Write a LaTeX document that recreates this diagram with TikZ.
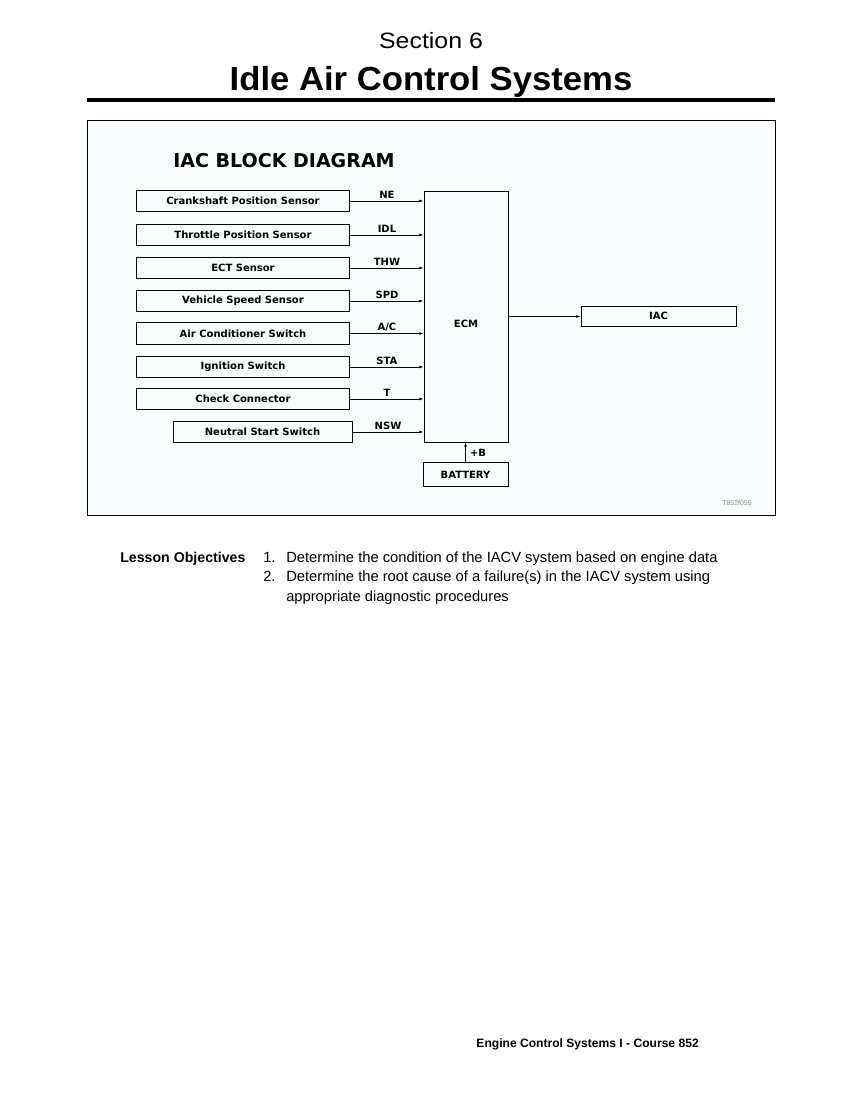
\documentclass[tikz,border=0pt]{standalone}
\usepackage{fontspec}
\setmainfont{Liberation Sans}
\newfontfamily\diafont{DejaVu Sans}
\newfontfamily\headfont[FakeStretch=1.12]{Liberation Sans}
\newfontfamily\titlefont[FakeStretch=1.04]{Liberation Sans}
\usepackage{tikz}
\usetikzlibrary{
  arrows.meta,
  positioning,
  calc,
}
\definecolor{framebg}{HTML}{F8FCFD}
\definecolor{taggray}{HTML}{8C8C8C}

\begin{document}
\begin{tikzpicture}[
    x=0.72pt, y=-0.72pt,
    sensor/.style={draw, line width=0.7pt, minimum width=154pt,
                   minimum height=15.8pt, inner sep=0pt,
                   font=\diafont\bfseries\fontsize{7.2pt}{8pt}\selectfont},
    unit/.style={draw, line width=0.7pt, inner sep=0pt,
                 font=\diafont\bfseries\fontsize{7.2pt}{8pt}\selectfont},
    sig/.style={draw, line width=0.5pt,
                -{Latex[length=3pt, width=2pt]}},
    siglabel/.style={above, inner sep=1.5pt,
                     font=\diafont\bfseries\fontsize{7.2pt}{8pt}\selectfont},
    body/.style={inner sep=0pt, font=\fontsize{10.6pt}{12pt}\selectfont},
  ]
  \useasboundingbox (0,0) rectangle (850,1100);

  % page heading
  \node[inner sep=0pt, anchor=base, font=\headfont\fontsize{16pt}{19pt}\selectfont] (sect) at (431,49) {Section 6};
  \node[inner sep=0pt, anchor=base, font=\titlefont\bfseries\fontsize{24pt}{28pt}\selectfont] (title) at (431,91) {Idle Air Control Systems};
  \draw[line width=3.2pt] (87,100) -- (775,100);

  % diagram frame
  \draw[line width=0.7pt, fill=framebg] (87,120) rectangle (775,515);
  \node[inner sep=0pt, font=\diafont\bfseries\fontsize{13.7pt}{16pt}\selectfont] (head) at (284,161) {IAC BLOCK DIAGRAM};

  % inputs
  \node[sensor] (ne)  at (243,201)   {Crankshaft Position Sensor};
  \node[sensor] (idl) at (243,235)   {Throttle Position Sensor};
  \node[sensor] (thw) at (243,268)   {ECT Sensor};
  \node[sensor] (spd) at (243,301)   {Vehicle Speed Sensor};
  \node[sensor] (ac)  at (243,333.5) {Air Conditioner Switch};
  \node[sensor] (sta) at (243,367)   {Ignition Switch};
  \node[sensor] (t)   at (243,399)   {Check Connector};
  \node[sensor, minimum width=128.9pt] (nsw) at (262.5,432) {Neutral Start Switch};

  % ECM, actuator and supply
  \node[unit, minimum width=60.5pt, minimum height=180.7pt,
        label={[font=\diafont\bfseries\fontsize{7.2pt}{8pt}\selectfont, yshift=-5.5pt]center:ECM}] (ecm) at (466,316.5) {};
  \node[unit, minimum width=111.6pt, minimum height=14.4pt] (iac) at (658.5,316) {IAC};
  \node[unit, minimum width=61.2pt, minimum height=16.6pt] (bat) at (465.5,474.5) {BATTERY};

  \draw[sig] (ne.east)  -- (ne.east -| ecm.west)  node[siglabel, midway] {NE};
  \draw[sig] (idl.east) -- (idl.east -| ecm.west) node[siglabel, midway] {IDL};
  \draw[sig] (thw.east) -- (thw.east -| ecm.west) node[siglabel, midway] {THW};
  \draw[sig] (spd.east) -- (spd.east -| ecm.west) node[siglabel, midway] {SPD};
  \draw[sig] (ac.east)  -- (ac.east -| ecm.west)  node[siglabel, midway] {A/C};
  \draw[sig] (sta.east) -- (sta.east -| ecm.west) node[siglabel, midway] {STA};
  \draw[sig] (t.east)   -- (t.east -| ecm.west)   node[siglabel, midway] {T};
  \draw[sig] (nsw.east) -- (nsw.east -| ecm.west) node[siglabel, midway] {NSW};
  \draw[sig] (ecm.east) -- (ecm.east -| iac.west);
  \draw[sig] (bat.north) -- (bat.north |- ecm.south)
    node[midway, right, inner sep=3pt, font=\diafont\bfseries\fontsize{7.2pt}{8pt}\selectfont] {+B};

  \node[inner sep=0pt, text=taggray, font=\fontsize{5pt}{6pt}\selectfont] (tag) at (737,503) {T852f059};

  % lesson objectives
  \node[body, anchor=base west] (obj) at (120,562) {\bfseries\fontsize{10.2pt}{12pt}\selectfont Lesson Objectives};
  \node[body, anchor=base west] (n1)  at (263,562) {1.};
  \node[body, anchor=base west] (o1)  at (286,562) {Determine the condition of the IACV system based on engine data};
  \node[body, anchor=base west] (n2)  at (263,581.5) {2.};
  \node[body, anchor=base west] (o2)  at (286,581.5) {Determine the root cause of a failure(s) in the IACV system using};
  \node[body, anchor=base west] (o2b) at (286,601) {appropriate diagnostic procedures};

  % footer
  \node[inner sep=0pt, anchor=base east, font=\bfseries\fontsize{8.7pt}{10pt}\selectfont] (foot) at (699,1047) {Engine Control Systems I - Course 852};
\end{tikzpicture}
\end{document}
